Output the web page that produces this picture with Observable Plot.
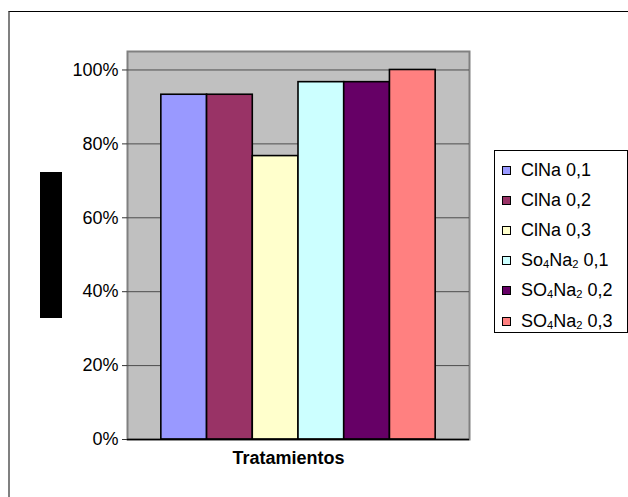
<!DOCTYPE html>
<html>
<head>
<meta charset="utf-8">
<script src="https://cdn.jsdelivr.net/npm/d3@7"></script>
<script src="https://cdn.jsdelivr.net/npm/@observablehq/plot@0.6"></script>
<style>
  html, body { margin: 0; padding: 0; background: #fff; }
  #wrap { position: relative; width: 628px; height: 497px; overflow: hidden; font-family: "Liberation Sans", Arial, sans-serif; }
  #outer { position: absolute; left: 8px; top: 11px; width: 640px; height: 520px; border-top: 1.5px solid #000; border-left: 2px solid #808080; box-sizing: border-box; }
  #chart { position: absolute; left: 0; top: 0; }
  #blk { position: absolute; left: 40px; top: 172px; width: 22px; height: 146px; background: #000; }
  #legend { position: absolute; left: 494px; top: 150px; width: 134px; height: 183px; border: 1px solid #000; box-sizing: border-box; background: #fff; }
  .item { position: absolute; left: 0; height: 30px; display: flex; align-items: center; font-size: 18px; color: #000; white-space: nowrap; }
  .sw { width: 7px; height: 7px; border: 1px solid #000; margin-left: 7px; margin-right: 10px; }
  sub { font-size: 0.62em; vertical-align: -0.2em; line-height: 0; }
</style>
</head>
<body>
<div id="wrap">
  <div id="outer"></div>
  <div id="blk"></div>
  <div id="legend"></div>
</div>
<script>
const treatments = ["ClNa 0,1", "ClNa 0,2", "ClNa 0,3", "So4Na2 0,1", "SO4Na2 0,2", "SO4Na2 0,3"];
const survival = [0.933, 0.933, 0.767, 0.967, 0.967, 1.0];
const colors = ["#9999FF", "#993366", "#FFFFCC", "#CCFFFF", "#660066", "#FF8080"];
const yTicks = [0, 0.2, 0.4, 0.6, 0.8, 1.0];
const xTitle = "Tratamientos";

const data = treatments.map((t, i) => ({ t, v: survival[i], c: colors[i] }));

const chart = Plot.plot({
  width: 628,
  height: 497,
  marginLeft: 127,
  marginRight: 159,
  marginTop: 51,
  marginBottom: 58,
  style: { fontFamily: "'Liberation Sans', Arial, sans-serif", fontSize: "18px", color: "#000", background: "transparent" },
  x: { type: "band", domain: treatments, paddingInner: 0, paddingOuter: 0.74, round: false, axis: null },
  y: { domain: [0, 1.05], axis: null },
  marks: [
    Plot.frame({ fill: "#C0C0C0", stroke: "#808080", strokeWidth: 2 }),
    Plot.gridY(yTicks, { stroke: "#4d4d4d", strokeOpacity: 1, strokeWidth: 1 }),
    Plot.axisY(yTicks, { tickFormat: d3.format(".0%"), tickSize: 5, tickPadding: 4, label: null, fontSize: 18, stroke: "#333" }),
    Plot.barY(data, { x: "t", y: "v", fill: "c", stroke: "#000", strokeWidth: 1.6, insetLeft: 0, insetRight: 0 }),
    Plot.ruleY([0], { stroke: "#000", strokeWidth: 1.5 }),
    Plot.text([xTitle], { frameAnchor: "bottom", dy: 24, dx: -10, fontWeight: "bold", fontSize: 18, fill: "#000" })
  ]
});
chart.id = "chart";
document.getElementById("wrap").insertBefore(chart, document.getElementById("blk"));

const legend = document.getElementById("legend");
treatments.forEach((t, i) => {
  const div = document.createElement("div");
  div.className = "item";
  div.style.top = (4 + i * 30.2) + "px";
  const sw = document.createElement("div");
  sw.className = "sw";
  sw.style.background = colors[i];
  const span = document.createElement("span");
  span.innerHTML = t.replace(/([A-Za-z])(\d)/g, "$1<sub>$2</sub>");
  div.appendChild(sw);
  div.appendChild(span);
  legend.appendChild(div);
});
</script>
</body>
</html>
